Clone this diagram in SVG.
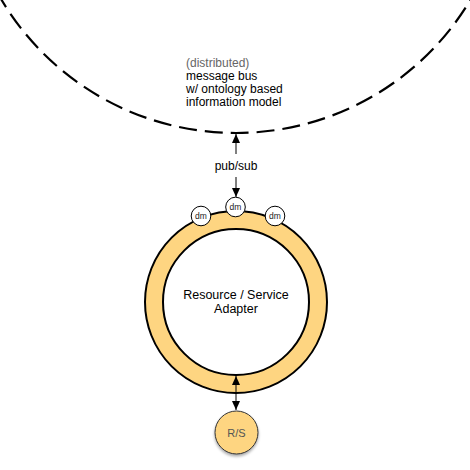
<svg xmlns="http://www.w3.org/2000/svg" width="470" height="470" viewBox="0 0 470 470">
<style>
  text { font-family: "Liberation Sans", Arial, Helvetica, sans-serif; fill: #000; }
  .lbl { font-size: 12px; }
  .dm { font-size: 8.5px; text-anchor: middle; fill: #222; }
  .conn { stroke: #000; stroke-width: 1; fill: none; }
  .dmc { fill: #fff; stroke: #000; stroke-width: 1; }
  .orange { fill: #FED581; }
</style>
<defs>
  <marker id="arr" markerUnits="userSpaceOnUse" markerWidth="10" markerHeight="10" viewBox="0 0 10 10" refX="9" refY="5" orient="auto">
    <path d="M0,1 L9,5 L0,9 Z" fill="#000"/>
  </marker>
  <filter id="sh" x="-30%" y="-30%" width="160%" height="170%">
    <feGaussianBlur in="SourceAlpha" stdDeviation="1.5"/>
    <feOffset dx="0" dy="2" result="b"/>
    <feComponentTransfer><feFuncA type="linear" slope="0.35"/></feComponentTransfer>
    <feMerge><feMergeNode/><feMergeNode in="SourceGraphic"/></feMerge>
  </filter>
</defs>

<g id="bus">
  <circle cx="236" cy="-140" r="273" fill="none" stroke="#000" stroke-width="2.2" stroke-dasharray="18 8"/>
  <text class="lbl" x="186" y="67" style="fill:#666">(distributed)</text>
  <text class="lbl" x="186" y="80">message bus</text>
  <text class="lbl" x="186" y="93">w/ ontology based</text>
  <text class="lbl" x="186" y="106">information model</text>
</g>

<g id="adapter">
  <circle class="orange" cx="236" cy="302" r="91" stroke="#000" stroke-width="2"/>
  <circle cx="236" cy="302" r="73" fill="#fff" stroke="#000" stroke-width="2"/>
  <text x="236" y="299" text-anchor="middle" style="font-size:12.5px">Resource / Service</text>
  <text x="236" y="313" text-anchor="middle" style="font-size:12.5px">Adapter</text>
</g>

<g id="rs">
  <circle class="orange" cx="236.5" cy="432.5" r="21.5" stroke="#333" stroke-width="1" filter="url(#sh)"/>
  <text x="236.5" y="436.5" text-anchor="middle" style="font-size:11px;fill:#555">R/S</text>
</g>

<g id="connectors">
  <line class="conn" x1="236" y1="154" x2="236" y2="134" marker-end="url(#arr)"/>
  <line class="conn" x1="236" y1="177" x2="236" y2="197" marker-end="url(#arr)"/>
  <text class="lbl" x="236" y="170" text-anchor="middle">pub/sub</text>
  <line class="conn" x1="236" y1="394" x2="236" y2="376" marker-end="url(#arr)"/>
  <line class="conn" x1="236" y1="392" x2="236" y2="410" marker-end="url(#arr)"/>
</g>

<g id="dm-left">
  <circle class="dmc" cx="201" cy="216" r="9.8"/>
  <text class="dm" x="201" y="219">dm</text>
</g>
<g id="dm-top">
  <circle class="dmc" cx="235.5" cy="207" r="9.8"/>
  <text class="dm" x="235.5" y="210">dm</text>
</g>
<g id="dm-right">
  <circle class="dmc" cx="275" cy="216" r="9.8"/>
  <text class="dm" x="275" y="219">dm</text>
</g>
</svg>
